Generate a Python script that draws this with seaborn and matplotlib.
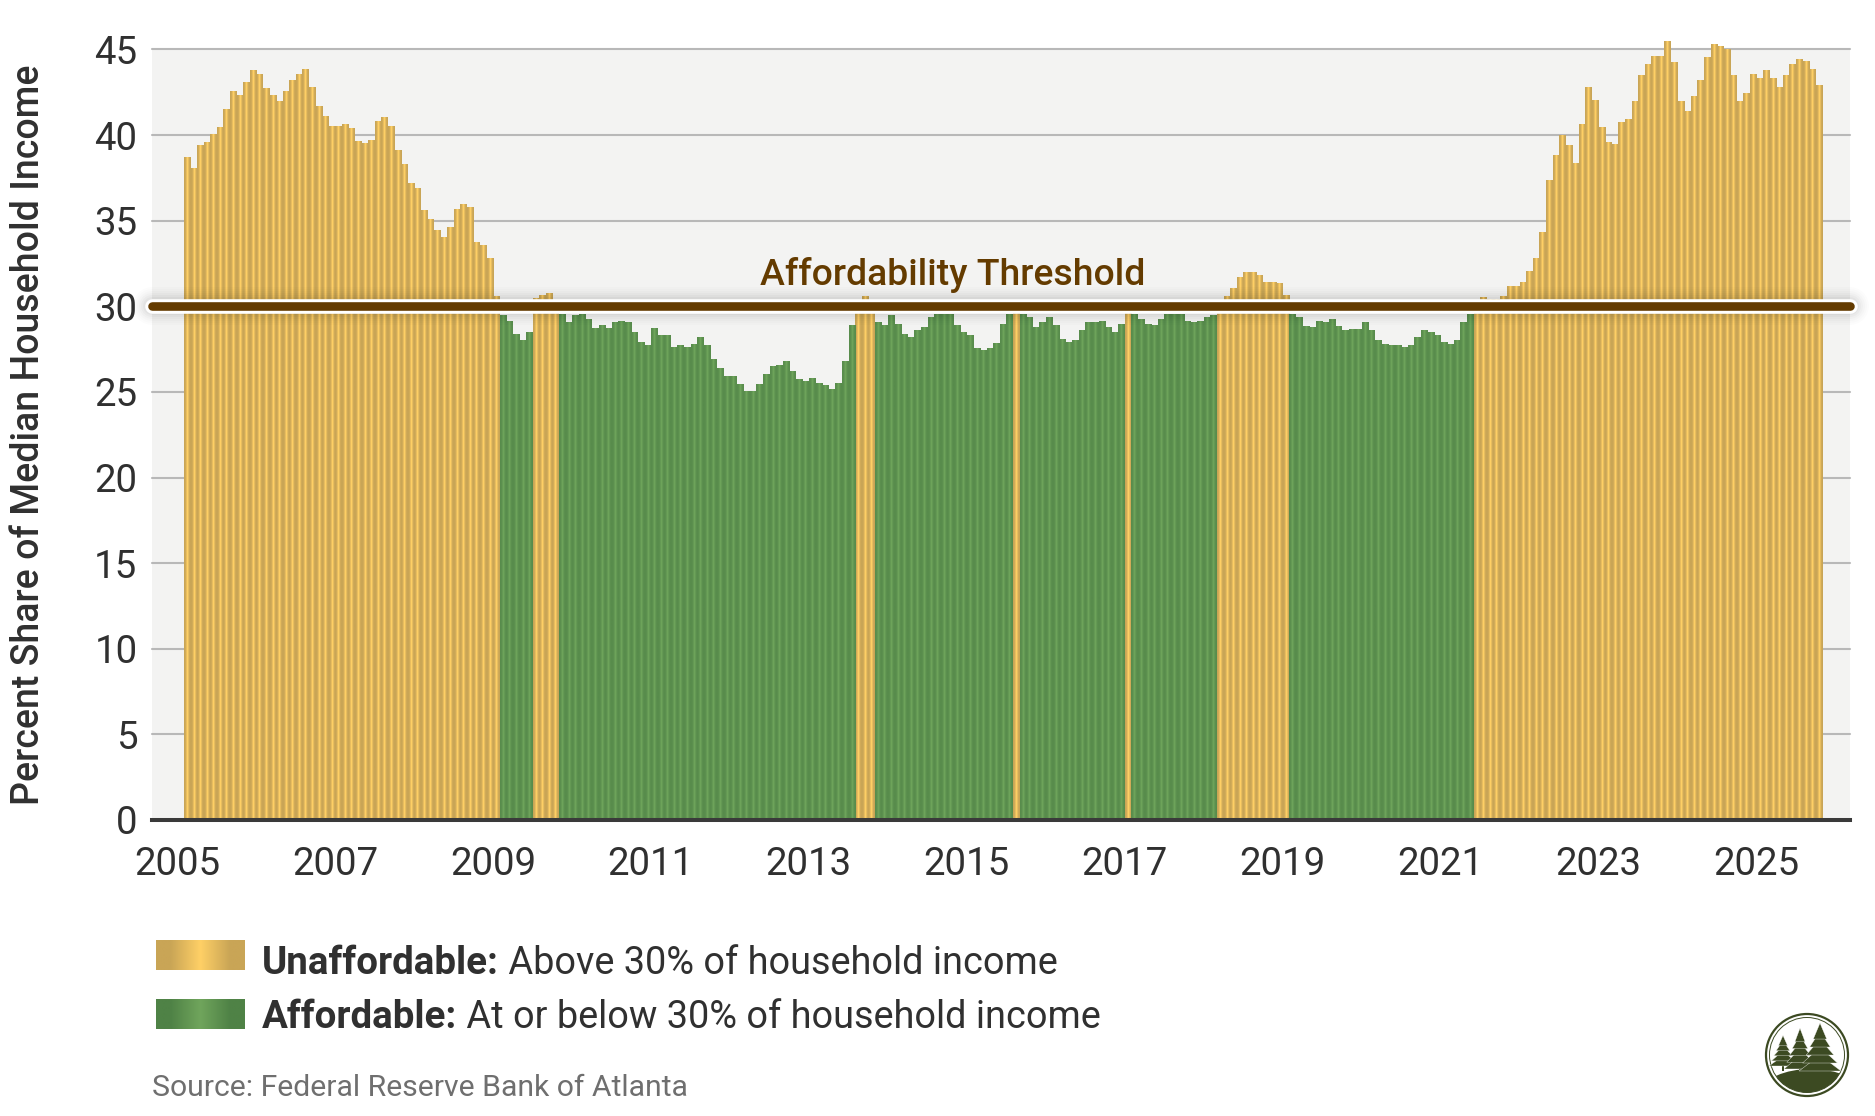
"""Mortgage affordability bars: share of median household income, 2005-2025."""
import numpy as np
import pandas as pd
import matplotlib
matplotlib.use('Agg')
import matplotlib.pyplot as plt
from matplotlib.patches import Circle, Ellipse, Polygon, Rectangle
import seaborn as sns

W, H = 1875, 1116

# valores, mes a mes
share_a = [38.7, 38.04, 39.39, 39.58, 40.05, 40.42, 41.47, 42.52, 42.33, 43.09, 43.75, 43.56,
           42.72, 42.33, 41.96, 42.52, 43.19, 43.56, 43.85, 42.8, 41.67, 41.1, 40.5, 40.5,
           40.6, 40.4, 39.6, 39.5, 39.66, 40.8, 41.0, 40.5, 39.1, 38.3, 37.2, 36.9,
           35.6, 35.1, 34.4, 34.0, 34.6, 35.66, 35.95, 35.76, 33.75, 33.56, 32.8, 30.6]
share_b = [29.44, 29.14, 28.38, 28.0, 28.46, 30.45, 30.64, 30.76, 30.1, 29.5, 29.05, 29.44,
           29.5, 29.24, 28.68, 28.87, 28.68, 29.05, 29.14, 29.05, 28.46, 27.9, 27.7, 28.68,
           28.29, 28.29, 27.6, 27.7, 27.62, 27.8, 28.2, 27.7, 26.87, 26.38, 25.9, 25.9,
           25.42, 25.05, 25.05, 25.42, 26.0, 26.48, 26.57, 26.77, 26.18, 25.72, 25.62, 25.81,
           25.52, 25.35, 25.15, 25.52, 26.77, 28.87, 30.1, 30.56, 30.1]
share_c = [29.05, 28.87, 29.44, 28.95, 28.38, 28.18, 28.57, 28.75, 29.34, 29.55, 29.55, 29.5,
           28.87, 28.48, 28.29, 27.53, 27.43, 27.53, 27.82, 28.95, 29.55, 30.1, 29.55, 29.34,
           28.75, 29.05, 29.34, 28.87, 28.09, 27.9, 28.0, 28.57, 29.05, 29.05, 29.14, 28.75,
           28.48, 28.95, 30.1, 29.55, 29.24, 28.95, 28.87, 29.24, 29.55, 29.55, 29.55, 29.14,
           29.05, 29.14, 29.34, 29.44, 30.1]
share_d = [30.56, 31.03, 31.71, 32.0, 32.0, 31.81, 31.42, 31.42, 31.32, 30.66, 29.55, 29.32,
           28.85, 28.75, 29.14, 29.05, 29.24, 28.85, 28.56, 28.66, 28.66, 29.05, 28.56, 28.0,
           27.8, 27.7, 27.7, 27.6, 27.7, 28.19, 28.56, 28.46, 28.27, 27.9, 27.8, 28.0,
           29.05, 29.55, 30.1]
share_e = [30.5, 30.42, 30.42, 30.6, 31.18, 31.18, 31.37, 32.04, 32.8, 34.3, 37.36, 38.82,
           39.95, 39.39, 38.33, 40.6, 42.8, 42.04, 40.42, 39.58, 39.48, 40.71, 40.9, 41.96,
           43.48, 44.14, 44.61, 44.61, 45.49, 44.24, 41.96, 41.39, 42.23, 43.19, 44.51, 45.29,
           45.19, 45.0, 43.48, 41.96, 42.43, 43.56, 43.28, 43.75, 43.28, 42.8, 43.48, 44.14,
           44.43, 44.32, 43.85, 42.91]
income_share = share_a + share_b + share_c + share_d + share_e

threshold = 30
year_labels = [str(y) for y in range(2005, 2026, 2)]
y_ticks = list(range(0, 46, 5))
gold_stops = ['#C9A556', '#FFD066', '#C9A556']
green_stops = ['#588C4C', '#6EA45B', '#588C4C']
green_legend = ['#4F8246', '#70A55C', '#4F8246']
BROWN = '#643B00'
TEXT = '#303030'


def fx(px):
    return px / W


def fy(py):
    return 1 - py / H


def grad(stops):
    return np.array([[matplotlib.colors.to_rgb(c) for c in stops]])


sns.set_theme(style='white')
plt.rcParams['font.family'] = ['Roboto', 'DejaVu Sans']

first_month = 2   # marzo 2005
df = pd.DataFrame({'month_idx': np.arange(len(income_share)) + first_month, 'share': income_share})
df['status'] = np.where(df['share'] > threshold, 'Unaffordable', 'Affordable')

fig = plt.figure(figsize=(W / 100, H / 100), dpi=100, facecolor='white')
ax = fig.add_axes([fx(152), fy(820), fx(1850 - 152), (820 - 49.5) / H])
ax.set_facecolor('#F3F3F2')

sns.barplot(data=df, x='month_idx', y='share', hue='status',
            hue_order=['Unaffordable', 'Affordable'],
            palette={'Unaffordable': gold_stops[1], 'Affordable': green_stops[1]},
            dodge=False, native_scale=True, width=1, legend=False, ax=ax, zorder=3)

# degradado horizontal dentro de cada barra
for container, stops in zip(ax.containers, [gold_stops, green_stops]):
    for bar in container:
        if not np.isfinite(bar.get_height()) or bar.get_height() == 0:
            continue
        bar.set_clip_on(False)
        bar.set_visible(False)
        x0, w, h = bar.get_x(), bar.get_width(), bar.get_height()
        ax.imshow(grad(stops), extent=[x0, x0 + w, 0, h], aspect='auto',
                  interpolation='bilinear', zorder=3, clip_on=False)

tick_shift = 0.44
ax.set_xlim(-3.36, 254.7)
ax.set_ylim(0, 45)
ax.set_xticks([(int(y) - 2005) * 12 + tick_shift for y in year_labels])
ax.set_xticklabels(year_labels)
ax.set_yticks(y_ticks)
ax.set_xlabel('')
ax.set_ylabel('')
ax.tick_params(axis='both', length=0, labelsize=27.6, labelcolor=TEXT)
ax.tick_params(axis='x', pad=18.5)
ax.tick_params(axis='y', pad=10.5)
ax.grid(axis='y', color='#B8B8B8', linewidth=1.5, zorder=1, clip_on=False)
ax.set_axisbelow(True)
sns.despine(ax=ax, left=True, right=True, top=True)
ax.spines['bottom'].set_color('#3A3A3A')
ax.spines['bottom'].set_linewidth(2.9)
ax.spines['bottom'].set_zorder(6)

fig.text(fx(29), fy(435), 'Percent Share of Median Household Income', rotation=90,
         ha='center', va='center', fontsize=27, color=TEXT, fontweight='medium')

# línea de umbral con halo blanco y sombra suave
line_x = [-3.36, 254.7]
for lw, a in zip(range(38, 14, -4), [0.01, 0.012, 0.014, 0.018, 0.022, 0.026]):
    ax.plot(line_x, [threshold] * 2, color='black', alpha=a, lw=lw * 0.72,
            solid_capstyle='round', clip_on=False, zorder=4)
ax.plot(line_x, [threshold] * 2, color='white', lw=14.6 * 0.72,
        solid_capstyle='round', clip_on=False, zorder=5)
ax.plot(line_x, [threshold] * 2, color=BROWN, lw=8.6 * 0.72,
        solid_capstyle='round', clip_on=False, zorder=5.5)
fig.text(fx(953), fy(275), 'Affordability Threshold', ha='center', va='center',
         fontsize=26.9, color=BROWN, fontweight='medium')

# leyenda
legend_rows = [(940, 970, 960, gold_stops, 'Unaffordable:', ' Above 30% of household income'),
               (999, 1029, 1014, green_legend, 'Affordable:', ' At or below 30% of household income')]
for top, bottom, text_y, stops, head, tail in legend_rows:
    sw = fig.add_axes([fx(156), fy(bottom), (245 - 156) / W, (bottom - top) / H])
    sw.imshow(grad(stops), aspect='auto', interpolation='bilinear')
    sw.axis('off')
    label = fig.text(fx(262), fy(text_y), head, fontsize=27.7, fontweight='bold', color=TEXT,
                     ha='left', va='center_baseline')
    ax.annotate(tail, xy=(1, 0), xycoords=label, xytext=(0, 0), textcoords='offset points',
                fontsize=27.3, color=TEXT, ha='left', va='bottom')

fig.text(fx(152), fy(1088), 'Source: Federal Reserve Bank of Atlanta', fontsize=21.7,
         color='#6F6F6F', ha='left', va='center')

# logo: círculo con tres pinos
LOGO = '#3C4A22'
logo = fig.add_axes([fx(1762), fy(1100), 90 / W, 90 / H])
logo.set_xlim(-45, 45)
logo.set_ylim(-45, 45)
logo.axis('off')
logo.add_patch(Circle((0, 0), 41, fill=False, ec=LOGO, lw=1.6))
logo.add_patch(Circle((0, 0), 37.5, fill=False, ec=LOGO, lw=0.7))
disc = Circle((0, 0), 37.5, transform=logo.transData)
hill = Ellipse((4, -36), 96, 44, fc=LOGO, ec='none')
logo.add_patch(hill)
hill.set_clip_path(disc)
trees = [(-24, -14, 30, 14), (-7, -17, 40, 16), (13, -19, 47, 21)]
for tx, base, height, half in trees:
    logo.add_patch(Rectangle((tx - 0.8, base - 2), 1.6, 10, fc=LOGO, ec='none'))
    for k in range(5):
        y0 = base + 3 + k * height * 0.17
        hw = half * (1 - k * 0.17)
        logo.add_patch(Polygon([(tx - hw, y0), (tx + hw, y0), (tx, y0 + height * 0.34)],
                               fc=LOGO, ec='white', lw=0.25))

fig.savefig('out.png', dpi=100, facecolor='white')
plt.close(fig)
